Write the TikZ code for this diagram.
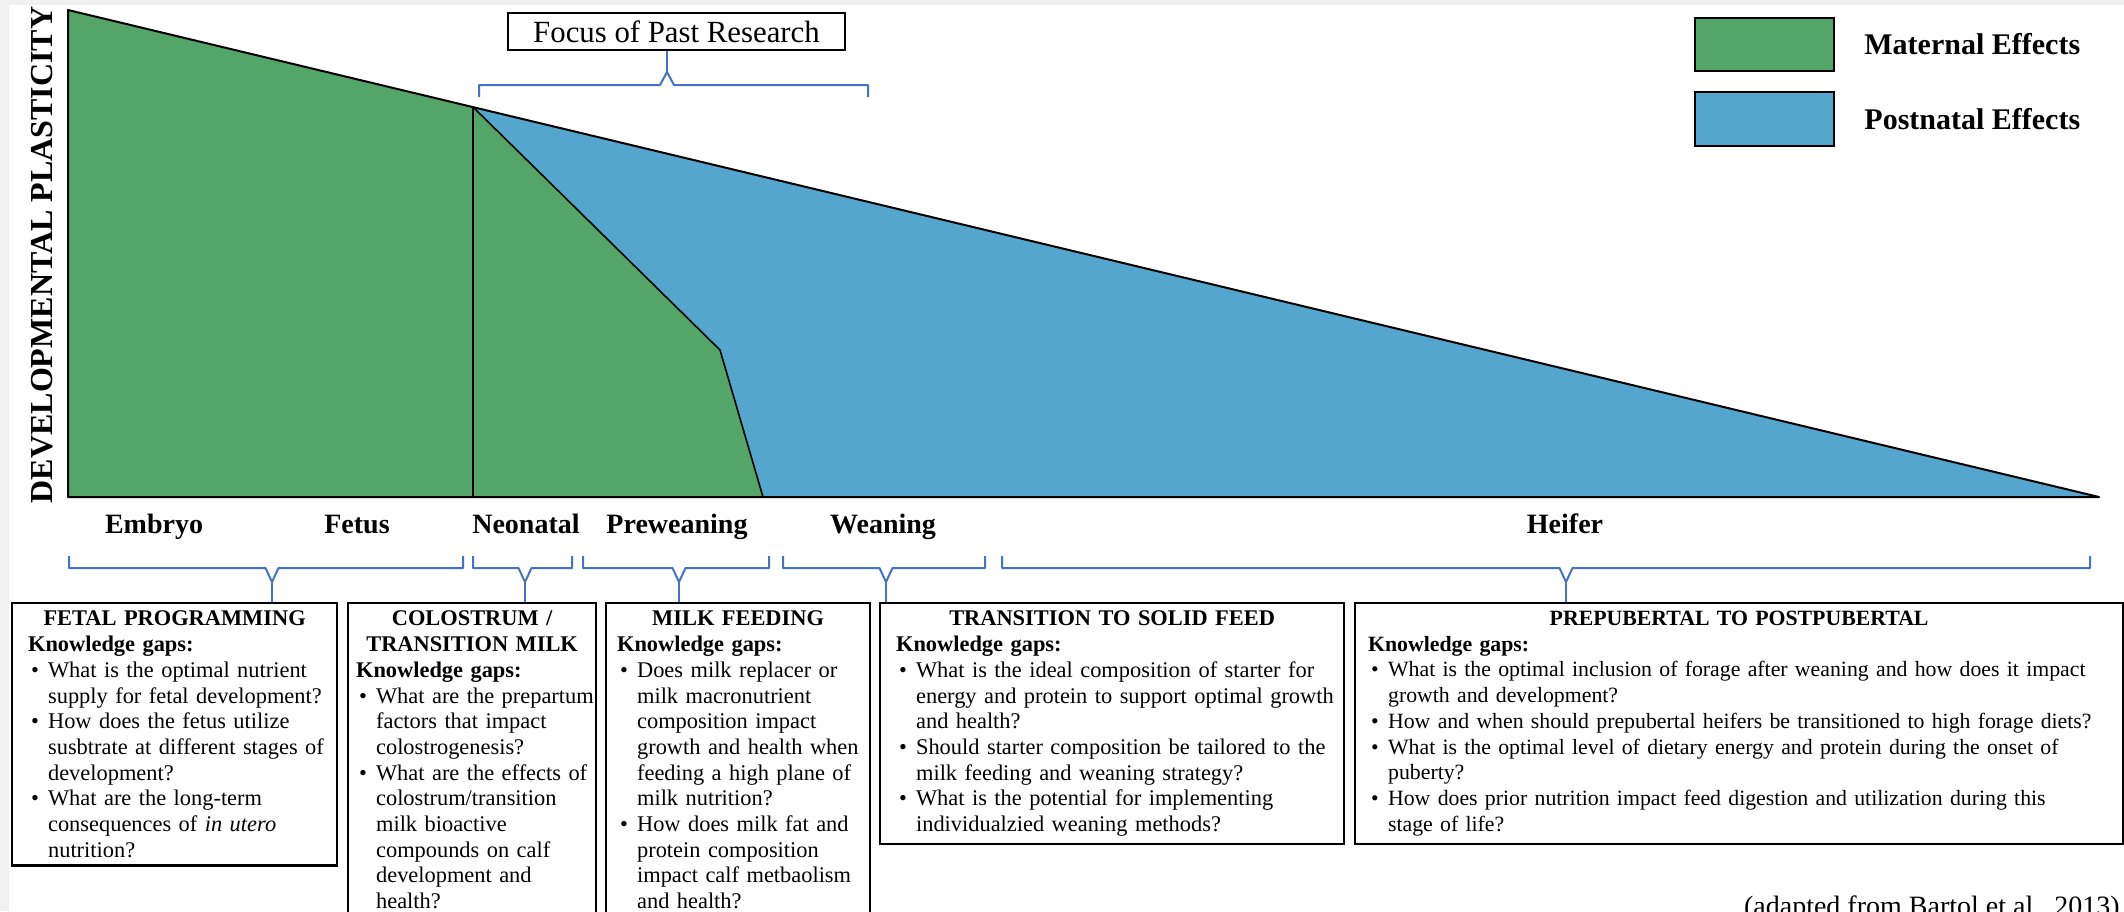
\documentclass[tikz,border=0pt]{standalone}
\usepackage{fontspec}
\setmainfont{Liberation Serif}
\usetikzlibrary{positioning}

\definecolor{maternal}{RGB}{83,165,104}
\definecolor{postnatal}{RGB}{84,166,204}
\definecolor{bracket}{RGB}{68,114,196}

% box text helpers
\newcommand{\kghead}[1]{{\centering\bfseries #1\par}}
\newcommand{\kgtitle}{\par\noindent\textbf{Knowledge gaps:}}
\newcommand{\kgitem}[1]{\par\noindent\mbox{\makebox[10pt][l]{\hspace{1.5pt}\textbullet}#1}}
\newcommand{\kgline}[1]{\par\noindent\mbox{\hspace*{10pt}#1}}

\begin{document}
\begin{tikzpicture}[x=0.5pt, y=-0.5pt,
    outline/.style={line width=1pt, line join=round},
    brace/.style={bracket, line width=1pt, line join=round},
    stage/.style={anchor=base, font=\fontsize{14}{16}\selectfont\bfseries},
    legendbox/.style={draw, line width=1pt, minimum width=69.5pt, minimum height=26.5pt, inner sep=0pt},
    legendtext/.style={right=14.5pt of #1, inner sep=0pt, font=\fontsize{15}{17}\selectfont\bfseries},
    gapbox/.style={draw, line width=1.1pt, anchor=north west, inner ysep=4pt, font=\fontsize{11.2}{12.85}\selectfont}]
    \useasboundingbox (0,0) rectangle (2124,911);
    \fill[gray!12] (0,0) rectangle (2124,911);
    \fill[white] (9,5) rectangle (2124,911);

    % Plasticity curve
    \coordinate (start) at (68,10);
    \coordinate (birth) at (473,107);
    \coordinate (knee) at (720,350);
    \coordinate (wean) at (763,497);
    \coordinate (apex) at (2099,497);
    \coordinate (origin) at (68,497);
    \fill[maternal] (start) -- (birth) -- (knee) -- (wean) -- (origin) -- cycle;
    \fill[postnatal] (birth) -- (apex) -- (wean) -- (knee) -- cycle;
    \draw[line width=0.8pt] (birth) -- (birth |- origin);
    \draw[line width=0.8pt, line join=round] (birth) -- (knee) -- (wean);
    \draw[outline] (start) -- (apex) -- (origin) -- cycle;

    \node[rotate=90, font=\fontsize{16}{18}\selectfont\bfseries] (ylabel) at (42,255) {DEVELOPMENTAL PLASTICITY};

    % Legend
    \node[legendbox, fill=maternal] (legmat) at (1764.5,44.5) {};
    \node[legendbox, fill=postnatal, minimum height=27pt, below=9.5pt of legmat] (legpost) {};
    \node[legendtext=legmat] (legmattext) {Maternal Effects};
    \node[legendtext=legpost] (legposttext) {Postnatal Effects};

    % Focus of past research
    \node[draw, line width=1pt, minimum width=168.5pt, minimum height=18.5pt, inner sep=0pt,
        font=\fontsize{15.4}{17}\selectfont] (focus) at (676.5,31.5) {Focus of Past Research};
    \draw[brace] (479,97) -- (479,85) -- (660,85) -- (667,72) coordinate (focustip) -- (674,85) -- (868,85) -- (868,97);
    \draw[brace] (focustip) -- (focustip |- focus.south);

    % Stages
    \foreach \lab/\xs/\id in {Embryo/154/embryo, Fetus/357/fetus, Neonatal/526/neonatal,
        Preweaning/677/preweaning, Weaning/883/weaning, Heifer/1565/heiferstage}
        \node[stage] (\id) at (\xs,533) {\lab};

    % Braces under the stages
    \foreach \xa/\xm/\xb/\n in {69/272/463/1, 473/525/572/2, 583/679/769/3, 783/886/985/4, 1002/1566/2090/5}
        \draw[brace] (\xa,556) -- (\xa,568) -- (\xm-6.5,568) -- (\xm,582) coordinate (stem\n)
            -- (\xm+6.5,568) -- (\xb,568) -- (\xb,556);

    % Knowledge gap boxes
    \node[gapbox, text width=146.5pt, inner xsep=8pt] (fetal) at (11,602) {%
        \kghead{FETAL PROGRAMMING}\kgtitle
        \kgitem{What is the optimal nutrient}
        \kgline{supply for fetal development?}
        \kgitem{How does the fetus utilize}
        \kgline{susbtrate at different stages of}
        \kgline{development?}
        \kgitem{What are the long-term}
        \kgline{consequences of \textit{in utero}}
        \kgline{nutrition?}};
    \node[gapbox, text width=116pt, inner xsep=4pt] (colostrum) at (347,602) {%
        \kghead{COLOSTRUM /\\TRANSITION MILK}\kgtitle
        \kgitem{What are the prepartum}
        \kgline{factors that impact}
        \kgline{colostrogenesis?}
        \kgitem{What are the effects of}
        \kgline{colostrum/transition}
        \kgline{milk bioactive}
        \kgline{compounds on calf}
        \kgline{development and}
        \kgline{health?}};
    \node[gapbox, text width=121pt, inner xsep=5.5pt] (milkfeed) at (605,602) {%
        \kghead{MILK FEEDING}\kgtitle
        \kgitem{Does milk replacer or}
        \kgline{milk macronutrient}
        \kgline{composition impact}
        \kgline{growth and health when}
        \kgline{feeding a high plane of}
        \kgline{milk nutrition?}
        \kgitem{How does milk fat and}
        \kgline{protein composition}
        \kgline{impact calf metbaolism}
        \kgline{and health?}};
    \node[gapbox, text width=216pt, inner xsep=8pt] (solidfeed) at (879,602) {%
        \kghead{TRANSITION TO SOLID FEED}\kgtitle
        \kgitem{What is the ideal composition of starter for}
        \kgline{energy and protein to support optimal growth}
        \kgline{and health?}
        \kgitem{Should starter composition be tailored to the}
        \kgline{milk feeding and weaning strategy?}
        \kgitem{What is the potential for implementing}
        \kgline{individualzied weaning methods?}};
    \node[gapbox, text width=371pt, inner xsep=6.5pt, font=\fontsize{10.9}{12.85}\selectfont] (pubertal) at (1354,602) {%
        \kghead{PREPUBERTAL TO POSTPUBERTAL}\kgtitle
        \kgitem{What is the optimal inclusion of forage after weaning and how does it impact}
        \kgline{growth and development?}
        \kgitem{How and when should prepubertal heifers be transitioned to high forage diets?}
        \kgitem{What is the optimal level of dietary energy and protein during the onset of}
        \kgline{puberty?}
        \kgitem{How does prior nutrition impact feed digestion and utilization during this}
        \kgline{stage of life?}};

    \foreach \n/\b in {1/fetal, 2/colostrum, 3/milkfeed, 4/solidfeed, 5/pubertal}
        \draw[brace] (stem\n) -- (stem\n |- \b.north);

    \node[anchor=base east, inner sep=0pt, font=\fontsize{14}{16}\selectfont] (credit) at (2120,915) {(adapted from Bartol et al., 2013)};
\end{tikzpicture}
\end{document}
